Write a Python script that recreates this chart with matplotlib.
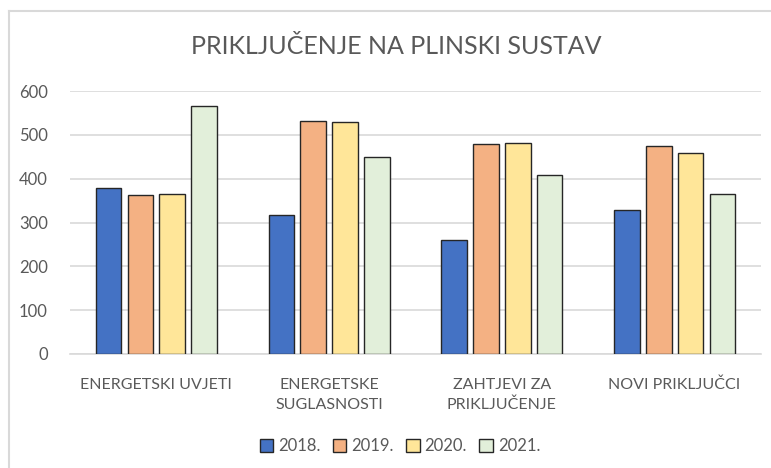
import matplotlib
matplotlib.use("Agg")
import matplotlib.pyplot as plt
import numpy as np
from matplotlib.lines import Line2D

categories = ["ENERGETSKI UVJETI", "ENERGETSKE\nSUGLASNOSTI", "ZAHTJEVI ZA\nPRIKLJUČENJE", "NOVI PRIKLJUČCI"]
series_names = ["2018.", "2019.", "2020.", "2021."]
v2018 = [378, 316, 259, 328]
v2019 = [363, 532, 480, 475]
v2020 = [366, 529, 482, 459]
v2021 = [565, 449, 408, 364]
colors = ["#4472C4", "#F4B183", "#FFE699", "#E2EFDA"]
yticks = [0, 100, 200, 300, 400, 500, 600]

plt.rcParams['font.family'] = ['Lato', 'DejaVu Sans']
txt = "#595959"

fig = plt.figure(figsize=(7.71, 4.68), dpi=100)
ax = fig.add_axes([70/771, 1-354/468, 691/771, 263/468])

x = np.arange(len(categories))
w = 0.148
step = 0.184
for i, (vals, c, name) in enumerate(zip([v2018, v2019, v2020, v2021], colors, series_names)):
    ax.bar(x + (i - 1.5)*step, vals, width=w, color=c, edgecolor="#262626", linewidth=1.0, label=name, zorder=3)

ax.set_xlim(-0.5, 3.5)
ax.set_ylim(0, 600)
ax.set_yticks(yticks)
ax.set_yticklabels([str(t) for t in yticks], color=txt, fontsize=12)
ax.yaxis.grid(True, color="#D9D9D9", linewidth=1.2, zorder=0)
ax.set_axisbelow(True)
ax.set_xticks(x)
ax.set_xticklabels(categories, color=txt, fontsize=11.5, linespacing=1.55, va="top")
ax.tick_params(axis='both', length=0)
ax.tick_params(axis='x', pad=17)
ax.tick_params(axis='y', pad=16)
for s in ["top", "right", "left"]:
    ax.spines[s].set_visible(False)
ax.spines["bottom"].set_color("#D9D9D9")
ax.spines["bottom"].set_linewidth(1.2)

fig.text(396/771, 1-47/468, "PRIKLJUČENJE NA PLINSKI SUSTAV", ha="center", va="center",
         fontsize=18, color=txt)

handles = [plt.Rectangle((0, 0), 1, 1, facecolor=c, edgecolor="#262626", linewidth=1.0) for c in colors]
fig.legend(handles, series_names, loc="center", bbox_to_anchor=(400/771, 1-446/468), ncol=4,
           frameon=False, fontsize=12, labelcolor=txt, handlelength=0.8, handleheight=0.8,
           handletextpad=0.3, columnspacing=0.75)

# chart border
fig.add_artist(Line2D([8.5/771, 8.5/771], [0, 1-10.5/468], color="#D9D9D9", linewidth=1.5, transform=fig.transFigure))
fig.add_artist(Line2D([8.5/771, 1], [1-10.5/468, 1-10.5/468], color="#D9D9D9", linewidth=1.5, transform=fig.transFigure))

fig.savefig("out.png", dpi=100)
